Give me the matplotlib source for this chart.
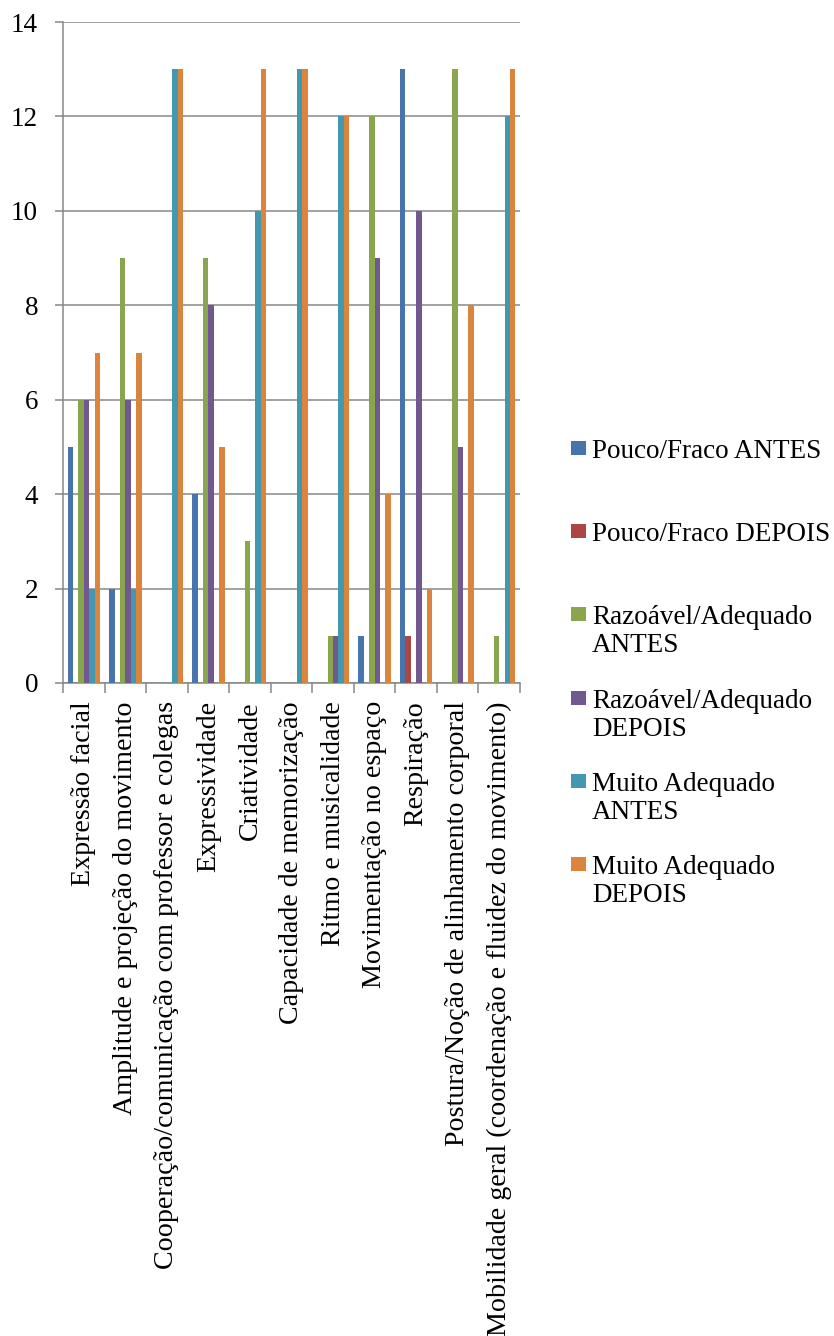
import matplotlib
matplotlib.use('Agg')
import matplotlib.pyplot as plt
import numpy as np
from matplotlib.patches import Rectangle

# Avaliação dos parâmetros (número de alunos) antes e depois
categories = [
    'Expressão facial',
    'Amplitude e projeção do movimento',
    'Cooperação/comunicação com professor e colegas',
    'Expressividade',
    'Criatividade',
    'Capacidade de memorização',
    'Ritmo e musicalidade',
    'Movimentação no espaço',
    'Respiração',
    'Postura/Noção de alinhamento corporal',
    'Mobilidade geral (coordenação e fluidez do movimento)',
]

series_names = [
    'Pouco/Fraco ANTES',
    'Pouco/Fraco DEPOIS',
    'Razoável/Adequado\nANTES',
    'Razoável/Adequado\nDEPOIS',
    'Muito Adequado\nANTES',
    'Muito Adequado\nDEPOIS',
]

pouco_antes = [5, 2, 0, 4, 0, 0, 0, 1, 13, 0, 0]
pouco_depois = [0, 0, 0, 0, 0, 0, 0, 0, 1, 0, 0]
razoavel_antes = [6, 9, 0, 9, 3, 0, 1, 12, 0, 13, 1]
razoavel_depois = [6, 6, 0, 8, 0, 0, 1, 9, 10, 5, 0]
muito_antes = [2, 2, 13, 0, 10, 13, 12, 0, 0, 0, 12]
muito_depois = [7, 7, 13, 5, 13, 13, 12, 4, 2, 8, 13]

series_values = [pouco_antes, pouco_depois, razoavel_antes,
                 razoavel_depois, muito_antes, muito_depois]

y_ticks = [0, 2, 4, 6, 8, 10, 12, 14]

colors = ['#4674AB', '#AA4643', '#89A54E', '#71588F', '#4198AF', '#DB843D']
grid_color = '#878787'

plt.rcParams['font.family'] = 'Liberation Serif'

W, H = 834, 1336
fig = plt.figure(figsize=(W / 100, H / 100), dpi=100)
fig.patch.set_facecolor('white')


def fx(px):
    return px / W


def fy(py):
    return 1 - py / H


# plot area in pixels
left, right, top, bottom = 63, 520, 22, 683
ax = fig.add_axes([fx(left), fy(bottom), fx(right - left), (bottom - top) / H])

x = np.arange(len(categories))
width = 0.13
for i, vals in enumerate(series_values):
    offset = (i - 2.5) * width
    ax.bar(x + offset, vals, width, color=colors[i], linewidth=0, zorder=3)

ax.set_xlim(-0.5, len(categories) - 0.5)
ax.set_ylim(0, 14)

ax.set_yticks(y_ticks)
ax.set_yticklabels([str(t) for t in y_ticks], fontsize=19.5)
ax.tick_params(axis='y', length=6, width=1.1, color=grid_color, pad=12)
ax.yaxis.grid(True, color=grid_color, linewidth=1.1, zorder=0)
ax.set_axisbelow(True)

ax.set_xticks(x)
ax.set_xticklabels(categories, rotation=90, fontsize=20.2, va='top', ha='center')
ax.tick_params(axis='x', which='major', length=0, pad=13)
ax.set_xticks(np.arange(len(categories) + 1) - 0.5, minor=True)
ax.tick_params(axis='x', which='minor', length=7, width=1.1, color=grid_color)

for spine in ['top', 'right']:
    ax.spines[spine].set_visible(False)
for spine in ['left', 'bottom']:
    ax.spines[spine].set_color(grid_color)
    ax.spines[spine].set_linewidth(1.1)

# legend to the right, each entry aligned on its first line
step = 83.2
for i, name in enumerate(series_names):
    top_px = 441 + i * step
    fig.patches.append(Rectangle((fx(571), fy(top_px + 14)), fx(15), 14 / H,
                                 transform=fig.transFigure, facecolor=colors[i],
                                 edgecolor='none'))
    for k, line in enumerate(name.split('\n')):
        fig.text(fx(592), fy(top_px + 17 + k * 28), line, fontsize=19.5,
                 ha='left', va='baseline')

fig.savefig('out.png', dpi=100)
